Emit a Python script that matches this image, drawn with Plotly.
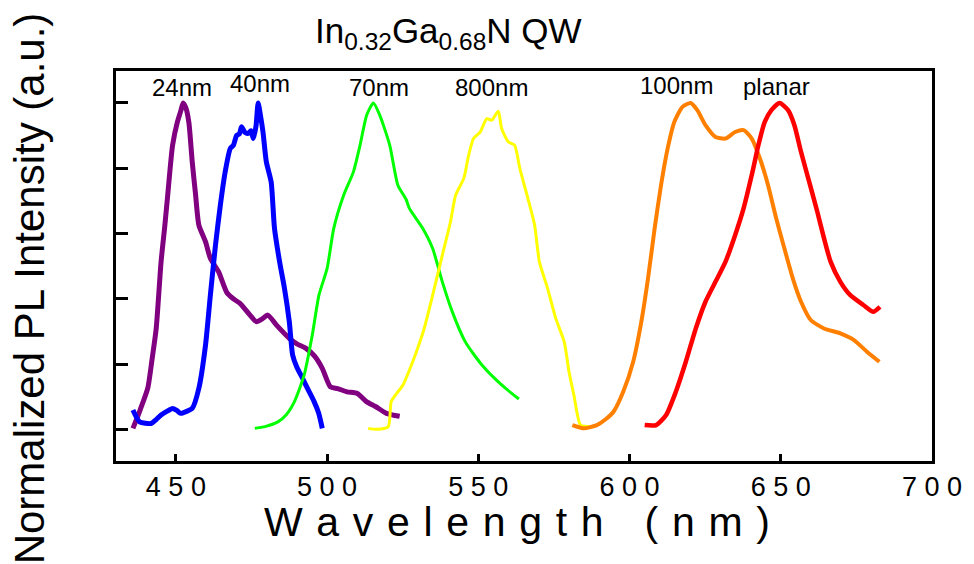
import plotly.graph_objects as go

# ---- data (wavelength nm, normalized PL intensity) ----
x_24nm = [435.8, 438.2, 440.7, 442.2, 443.5, 445.1, 446.3, 447.3, 448.9, 450.5, 451.6, 452.4, 453.3, 454.3,
          455.4, 456.5, 457.6, 459.8, 461.4, 464.1, 466.8, 469.0, 471.2, 474.5, 476.6, 478.5, 480.4,
          483.2, 487.5, 490.0, 493.0, 495.8, 498.4, 501.1, 503.5, 506.6, 510.0, 513.0, 516.0, 519.6, 524.0]
y_24nm = [0.003, 0.06, 0.126, 0.22, 0.31, 0.513, 0.62, 0.718, 0.87, 0.942, 0.975, 1.0, 0.985, 0.94,
          0.82, 0.72, 0.626, 0.575, 0.524, 0.483, 0.42, 0.40, 0.386, 0.35, 0.33, 0.338, 0.35,
          0.32, 0.279, 0.262, 0.248, 0.225, 0.187, 0.13, 0.125, 0.115, 0.11, 0.085, 0.07, 0.049, 0.04]

x_40nm = [435.8, 438.0, 441.8, 443.5, 445.1, 447.0, 448.9, 450.3, 451.6, 453.5, 455.4, 457.6, 459.8,
          461.4, 463.1, 464.7, 466.3, 468.0, 469.0, 470.1, 471.0, 471.7, 472.8, 473.9, 474.8, 475.6,
          476.5, 477.2, 478.0, 478.8, 479.9, 481.5, 482.6, 484.3, 485.9, 487.5, 488.6, 490.0,
          491.9, 493.8, 495.7, 497.2, 498.4]
y_40nm = [0.059, 0.023, 0.018, 0.03, 0.044, 0.055, 0.064, 0.058, 0.049, 0.055, 0.064, 0.126, 0.258,
          0.411, 0.565, 0.687, 0.789, 0.861, 0.87, 0.901, 0.905, 0.927, 0.91, 0.907, 0.915, 0.891,
          0.93, 1.0, 0.96, 0.911, 0.82, 0.758, 0.616, 0.513, 0.432, 0.33, 0.228, 0.19,
          0.156, 0.12, 0.085, 0.05, 0.003]

x_70nm = [476.1, 480.0, 483.7, 486.5, 489.2, 492.4, 495.1, 497.3, 500.0, 502.2, 505.5, 508.7, 510.9,
          513.1, 515.3, 517.4, 520.7, 523.4, 526.1, 527.2, 531.6, 534.9, 538.1, 541.4, 545.7, 551.2,
          557.7, 563.4]
y_70nm = [0.003, 0.01, 0.023, 0.045, 0.085, 0.166, 0.289, 0.411, 0.493, 0.616, 0.718, 0.789, 0.871,
          0.963, 1.0, 0.963, 0.871, 0.748, 0.705, 0.677, 0.616, 0.554, 0.452, 0.36, 0.268, 0.197,
          0.136, 0.093]

x_800nm = [513.6, 516.5, 520.2, 521.2, 523.0, 525.1, 528.3, 530.0, 532.1, 534.9, 538.1, 540.8, 542.5,
           545.2, 546.8, 548.4, 550.6, 552.8, 554.4, 556.6, 557.7, 559.9, 562.0, 563.7, 566.4,
           568.6, 570.2, 572.9, 575.6, 578.4, 580.0, 581.6, 583.8, 587.1]
y_800nm = [0.003, 0.0, 0.008, 0.085, 0.11, 0.136, 0.207, 0.25, 0.309, 0.411, 0.534, 0.636, 0.718,
           0.769, 0.84, 0.891, 0.911, 0.952, 0.947, 0.975, 0.922, 0.881, 0.871, 0.8, 0.707,
           0.626, 0.513, 0.432, 0.34, 0.268, 0.176, 0.105, 0.013, 0.008]

x_100nm = [581.1, 584.9, 589.2, 592.0, 594.7, 597.9, 601.2, 603.9, 606.1, 608.3, 610.4, 612.6, 614.8,
           617.5, 620.2, 622.4, 625.1, 628.4, 631.7, 634.9, 637.7, 640.4, 643.1, 645.8, 648.5,
           651.2, 654.0, 656.7, 659.9, 664.3, 669.7, 674.1, 678.5, 682.6]
y_100nm = [0.013, 0.003, 0.013, 0.03, 0.054, 0.115, 0.207, 0.33, 0.462, 0.616, 0.748, 0.861, 0.942,
           0.988, 1.0, 0.978, 0.932, 0.896, 0.891, 0.911, 0.917, 0.891, 0.83, 0.748, 0.646,
           0.554, 0.462, 0.391, 0.335, 0.309, 0.294, 0.274, 0.238, 0.207]

x_planar = [605.0, 608.8, 612.1, 615.3, 618.6, 621.9, 625.1, 628.4, 631.7, 634.9, 637.7, 640.4, 642.6,
            644.7, 646.9, 649.6, 652.4, 654.5, 656.7, 659.4, 662.1, 664.3, 666.5, 669.7, 673.0,
            677.3, 680.6, 682.8]
y_planar = [0.013, 0.013, 0.044, 0.115, 0.207, 0.309, 0.391, 0.452, 0.513, 0.595, 0.677, 0.779, 0.871,
            0.942, 0.978, 1.0, 0.978, 0.932, 0.85, 0.758, 0.666, 0.585, 0.513, 0.452, 0.411,
            0.381, 0.36, 0.375]

series = [
    ("24nm", x_24nm, y_24nm, "#800080", 5),
    ("40nm", x_40nm, y_40nm, "#0000ff", 5),
    ("70nm", x_70nm, y_70nm, "#00ff00", 3),
    ("800nm", x_800nm, y_800nm, "#ffff00", 3),
    ("100nm", x_100nm, y_100nm, "#ff8000", 4),
    ("planar", x_planar, y_planar, "#ff0000", 4.5),
]

# label positions (data coords)
label_text = ["24nm", "40nm", "70nm", "800nm", "100nm", "planar"]
label_x = [452.0, 477.8, 517.3, 554.5, 615.6, 648.6]
label_y = [1.048, 1.061, 1.048, 1.048, 1.054, 1.05]

tick_vals = [450, 500, 550, 600, 650, 700]
tick_text = ["4 5 0", "5 0 0", "5 5 0", "6 0 0", "6 5 0", "7 0 0"]

FONT = "Arial, 'Liberation Sans', sans-serif"
SP = "\u2004"

fig = go.Figure()
for name, xs, ys, col, w in series:
    fig.add_trace(go.Scatter(x=xs, y=ys, mode="lines", name=name,
                             line=dict(color=col, width=w, shape="spline", smoothing=0.6)))

for t, lx, ly in zip(label_text, label_x, label_y):
    fig.add_annotation(x=lx, y=ly, text=t, showarrow=False,
                       font=dict(family=FONT, size=24, color="black"),
                       xanchor="center", yanchor="middle")

# title
fig.add_annotation(xref="paper", yref="paper", x=0.407, y=1.0974,
                   text="In<sub>0.32</sub>Ga<sub>0.68</sub>N QW",
                   showarrow=False,
                   font=dict(family=FONT, size=35, color="black"),
                   xanchor="center", yanchor="middle")
# x axis title
xt = SP.join(list("Wavelength")) + SP * 3 + SP.join(list("(nm)"))
fig.add_annotation(xref="paper", yref="paper", x=0.4915, y=-0.157,
                   text=xt, showarrow=False,
                   font=dict(family=FONT, size=41, color="black"),
                   xanchor="center", yanchor="middle")
# y axis title
fig.add_annotation(xref="paper", yref="paper", x=-0.105, y=0.4436,
                   text="Normalized PL Intensity (a.u.)", showarrow=False, textangle=-90,
                   font=dict(family=FONT, size=42, color="black"),
                   xanchor="center", yanchor="middle")

fig.update_layout(
    width=974, height=564,
    margin=dict(l=116, r=32, t=71, b=103),
    paper_bgcolor="white", plot_bgcolor="white",
    showlegend=False,
    font=dict(family=FONT, color="black"),
    xaxis=dict(range=[430.2, 700], tickvals=tick_vals, ticktext=tick_text,
               ticks="inside", ticklen=7, tickwidth=3, tickcolor="black",
               showline=True, linewidth=3, linecolor="black", mirror=True,
               showgrid=False, zeroline=False,
               tickfont=dict(family=FONT, size=27, color="black")),
    yaxis=dict(range=[-0.097, 1.098], tickvals=[0, 0.2, 0.4, 0.6, 0.8, 1.0],
               showticklabels=False,
               ticks="inside", ticklen=12, tickwidth=3, tickcolor="black",
               showline=True, linewidth=3, linecolor="black", mirror=True,
               showgrid=False, zeroline=False),
)

fig.write_html("out.html")
